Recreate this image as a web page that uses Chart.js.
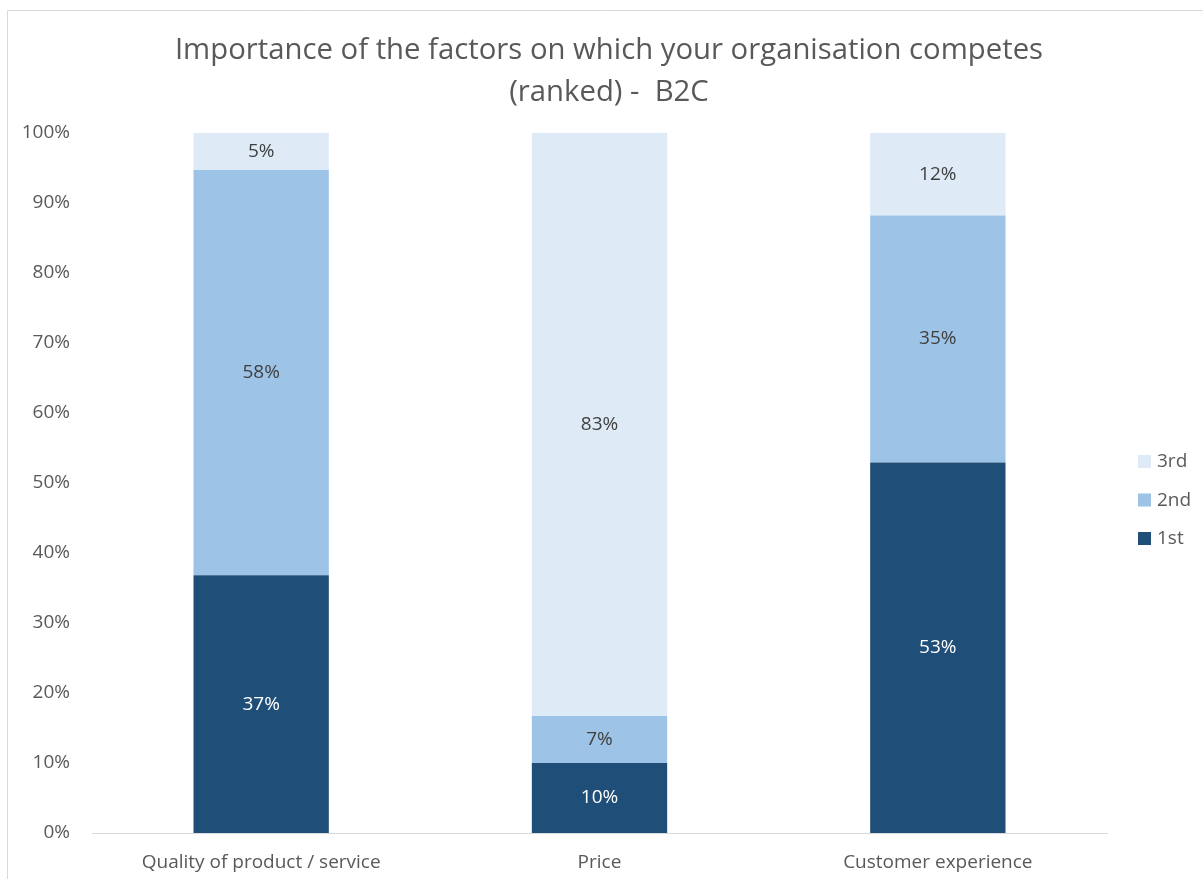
<!DOCTYPE html>
<html>
<head>
<meta charset="utf-8">
<script src="https://cdn.jsdelivr.net/npm/chart.js@4.4.1/dist/chart.umd.min.js"></script>
<style>
  html, body { margin: 0; padding: 0; background: #fff; overflow: hidden; }
  #wrap { width: 1203px; height: 879px; }
</style>
</head>
<body>
<div id="wrap"><canvas id="myChart" width="1203" height="879"></canvas></div>
<script>
// chart data (percent of respondents per rank)
let categories = ['Quality of product / service', 'Price', 'Customer experience'];
let rankNames = ['1st', '2nd', '3rd'];
let firstRank = [36.8, 10.0, 52.9];
let secondRank = [57.9, 6.7, 35.3];
let thirdRank = [5.3, 83.3, 11.8];
let yTicks = [0, 10, 20, 30, 40, 50, 60, 70, 80, 90, 100];

let fontName = "'Open Sans', Lato, sans-serif";
let greyText = '#595959';

//thin frame like the office chart border
const framePlugin = {
  id: 'frame',
  afterLayout(chart) {
    //the original chart is wider than the picture, so centre the title on the whole frame
    chart.titleBlock.left = 7;
    chart.titleBlock.right = 1211;
  },
  beforeDraw(chart) {
    let ctx = chart.ctx;
    ctx.save();
    ctx.strokeStyle = '#d9d9d9';
    ctx.lineWidth = 1;
    ctx.beginPath();
    ctx.moveTo(7.5, chart.height);
    ctx.lineTo(7.5, 10.5);
    ctx.lineTo(chart.width, 10.5);
    ctx.stroke();
    ctx.restore();
  }
};

//writes the percentages in the middle of each segment
const valueLabels = {
  id: 'valueLabels',
  afterDatasetsDraw(chart) {
    let ctx = chart.ctx;
    ctx.save();
    ctx.font = '19px ' + fontName;
    ctx.textAlign = 'center';
    ctx.textBaseline = 'middle';
    chart.data.datasets.forEach((ds, i) => {
      let meta = chart.getDatasetMeta(i);
      meta.data.forEach((bar, j) => {
        let p = bar.getProps(['x', 'y', 'base'], true);
        ctx.fillStyle = i === 0 ? '#ffffff' : '#404040';
        ctx.fillText(Math.round(ds.data[j]) + '%', p.x, (p.y + p.base) / 2);
      });
    });
    ctx.restore();
  }
};

//legend on the right, top item is 3rd
const sideLegend = {
  id: 'sideLegend',
  afterDraw(chart) {
    let ctx = chart.ctx;
    let sets = chart.data.datasets.slice().reverse();
    let y0 = 461;
    ctx.save();
    ctx.font = '19px ' + fontName;
    ctx.textBaseline = 'middle';
    ctx.textAlign = 'left';
    sets.forEach((ds, k) => {
      let y = y0 + k * 38.5;
      ctx.fillStyle = ds.backgroundColor;
      ctx.fillRect(1138, y - 6, 13, 13);
      ctx.fillStyle = greyText;
      ctx.fillText(ds.label, 1157, y + 1);
    });
    ctx.restore();
  }
};

function makeRankChart() {
  let ctx = document.getElementById('myChart').getContext('2d');

  let rankChart = new Chart(ctx, {
    type: 'bar',
    data: {
      labels: categories,
      datasets: [{
        label: rankNames[0],
        data: firstRank,
        backgroundColor: '#1f4e79'
      }, {
        label: rankNames[1],
        data: secondRank,
        backgroundColor: '#9dc3e6'
      }, {
        label: rankNames[2],
        data: thirdRank,
        backgroundColor: '#deebf7'
      }]
    },
    options: {
      responsive: false,
      animation: false,
      layout: {
        padding: { left: 8, right: 96, top: 10, bottom: 0 }
      },
      datasets: {
        bar: { barPercentage: 0.4, categoryPercentage: 1.0 }
      },
      plugins: {
        legend: { display: false },
        tooltip: { enabled: false },
        title: {
          display: true,
          text: ['Importance of the factors on which your organisation competes', '(ranked) -  B2C'],
          color: greyText,
          font: { family: fontName, size: 29.3, weight: 'normal', lineHeight: 1.43 },
          padding: { top: 20, bottom: 19 }
        }
      },
      scales: {
        x: {
          stacked: true,
          grid: { display: false, drawTicks: false },
          border: { display: true, color: '#d9d9d9', width: 1 },
          ticks: { color: greyText, padding: 18, font: { family: fontName, size: 19 } },
          afterFit(scale) { scale.height = 46; }
        },
        y: {
          stacked: true,
          min: 0,
          max: 100,
          grid: { display: false, drawTicks: false },
          border: { display: false },
          afterBuildTicks(scale) { scale.ticks = yTicks.map(v => ({ value: v })); },
          ticks: {
            color: greyText,
            padding: 22,
            font: { family: fontName, size: 19 },
            callback: v => v + '%'
          },
          afterFit(scale) { scale.width = 84; }
        }
      }
    },
    plugins: [framePlugin, valueLabels, sideLegend]
  });
}

makeRankChart();
</script>
</body>
</html>
